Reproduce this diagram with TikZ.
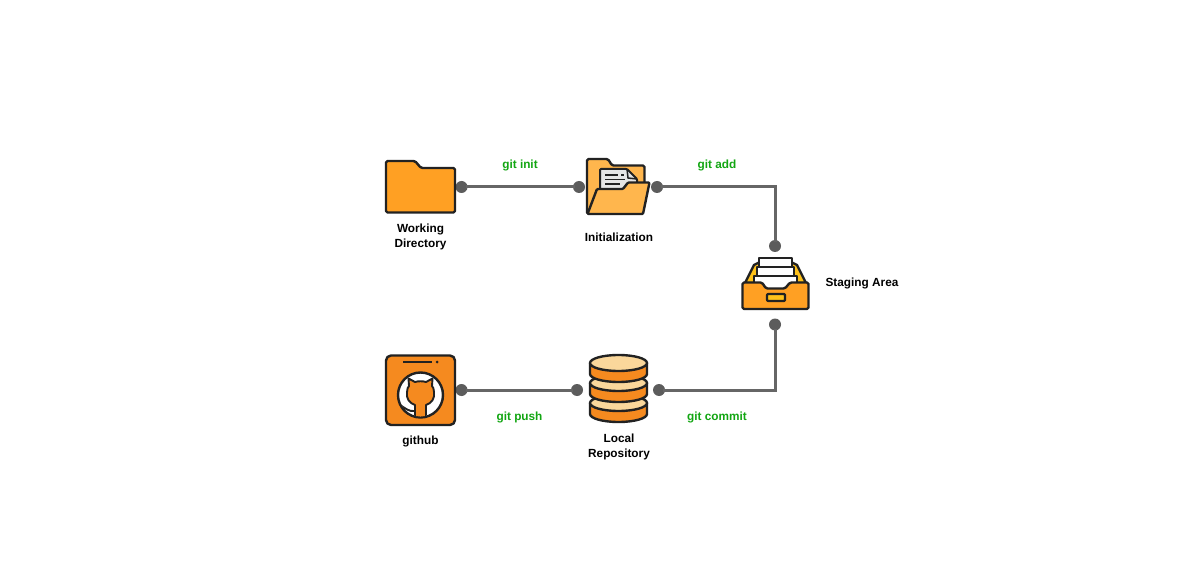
\documentclass[tikz,border=0pt]{standalone}
\usepackage{fontspec}
\setmainfont{Liberation Sans}
\definecolor{folderor}{HTML}{FFA023}
\definecolor{folderlt}{HTML}{FFB64D}
\definecolor{boxor}{HTML}{F58A1F}
\definecolor{cream}{HTML}{FAD79B}
\definecolor{yel}{HTML}{FFC21A}
\definecolor{ink}{HTML}{222222}
\definecolor{wire}{HTML}{666666}
\definecolor{dotc}{HTML}{5C5C5C}
\definecolor{cmdc}{HTML}{12A612}
\tikzset{
  px/.style={x=1pt,y=-1pt},
  dotn/.style={circle,fill=dotc,inner sep=0pt,outer sep=0pt,minimum size=12pt},
  wireline/.style={draw=wire,line width=3pt,shorten <=-2pt,shorten >=-2pt},
  icon/.style={draw=ink,line width=2.4pt,line join=round,line cap=round},
  lab/.style={font=\fontsize{11.8}{14.3}\selectfont\bfseries,text=black,align=center,inner sep=0pt},
  cmd/.style={font=\fontsize{11.8}{14.3}\selectfont\bfseries,text=cmdc,inner sep=0pt}
}
\begin{document}
\begin{tikzpicture}[px]
\useasboundingbox[fill=white] (0,0) rectangle (1199,585);
% connection points
\node[dotn] (d1) at (461.5,187) {};
\node[dotn] (d2) at (579,187) {};
\node[dotn] (d3) at (657,187) {};
\node[dotn] (d4) at (775,246) {};
\node[dotn] (d5) at (775,324.5) {};
\node[dotn] (d6) at (659,390) {};
\node[dotn] (d7) at (577,390) {};
\node[dotn] (d8) at (461.5,390) {};
\draw[wireline] (d1) -- (d2);
\draw[wireline] (d3) -| (d4);
\draw[wireline] (d5) |- (d6);
\draw[wireline] (d7) -- (d8);
% working directory folder
\draw[icon,fill=folderor,rounded corners=1.5pt] (386,161) -- (415,161) -- (421,168) -- (455,168) -- (455,212.5) -- (386,212.5) -- cycle;
% initialization folder
\draw[icon,fill=folderlt,rounded corners=1.5pt] (587,214) -- (587,159) -- (608,159) -- (612,165.5) -- (644.5,165.5) -- (644.5,190) -- cycle;
\draw[icon,fill=black!10,rounded corners=1pt,line width=2pt] (600,192) -- (600,169) -- (627,169) -- (637,179) -- (637,192);
\draw[ink,line width=1.5pt] (627,169) -- (628,178) -- (637,179);
\draw[ink,line width=1.7pt] (605,175) -- (618,175) (621,175) -- (624,175) (605,179.5) -- (625,179.5) (605,184) -- (620,184);
\draw[icon,fill=folderlt,rounded corners=1pt] (587.5,214) -- (597,189) -- (623,189) -- (628,182.5) -- (649.5,182.5) -- (643,214) -- cycle;
% staging area tray
\draw[icon,fill=yel] (745,283) -- (754,265) -- (760,262) -- (791,262) -- (797,265) -- (806,283) -- cycle;
\draw[icon,fill=white,line width=2pt] (759,281) -- (759,258.5) -- (791.5,258.5) -- (791.5,281) -- cycle;
\draw[icon,fill=white,line width=2pt] (757,281) -- (757,267) -- (794,267) -- (794,281) -- cycle;
\draw[icon,fill=white,line width=2pt] (754,290) -- (754,276) -- (797,276) -- (797,290) -- cycle;
\draw[icon,fill=folderor,rounded corners=1.5pt] (742.5,282.5) -- (762,282.5) -- (766,288.5) -- (785,288.5) -- (790,282.5) -- (808.5,282.5) -- (808.5,309) -- (742.5,309) -- cycle;
\draw[icon,fill=yel,rounded corners=1pt,line width=2.2pt] (767,294) rectangle (785,301);
% github tile
\draw[icon,fill=boxor,rounded corners=5pt] (386,355.5) rectangle (455,425);
\draw[ink,line width=2pt] (403,362) -- (432,362);
\fill[ink] (437,362) circle (1.5pt);
\draw[ink,line width=2.4pt,fill=white] (420.5,395) circle (22.5pt);
\begin{scope}
\clip (420.5,395) circle (21.5pt);
\draw[ink,line width=1.9pt,fill=boxor,line join=round] (415,420) -- (415,405) .. controls (409,403) and (406,398) .. (407,392) .. controls (407,389) and (408,387) .. (409,386) -- (408.5,378.5) -- (415,382) .. controls (418,381) and (423,381) .. (426,382) -- (432.5,378.5) -- (432,386) .. controls (433,387) and (434,389) .. (434,392) .. controls (435,398) and (432,403) .. (426,405) -- (426,420) -- cycle;
\draw[ink,line width=1.9pt] (415,411) .. controls (409,412) and (405,408) .. (400,405);
\end{scope}
% local repository database
\draw[icon,fill=boxor] (590,403) -- (590,414) arc[start angle=180,end angle=360,x radius=28.5pt,y radius=8pt] -- (647,403) -- cycle;
\draw[icon,fill=cream] (618.5,403) ellipse[x radius=28.5pt,y radius=8pt];
\draw[icon,fill=boxor] (590,383) -- (590,394) arc[start angle=180,end angle=360,x radius=28.5pt,y radius=8pt] -- (647,383) -- cycle;
\draw[icon,fill=cream] (618.5,383) ellipse[x radius=28.5pt,y radius=8pt];
\draw[icon,fill=boxor] (590,363) -- (590,374) arc[start angle=180,end angle=360,x radius=28.5pt,y radius=8pt] -- (647,363) -- cycle;
\draw[icon,fill=cream] (618.5,363) ellipse[x radius=28.5pt,y radius=8pt];
% labels
\node[lab] (wd) at (420.5,237) {Working\\Directory};
\node[lab] (in) at (619,237) {Initialization};
\node[lab] (sa) at (862,283) {Staging Area};
\node[lab] (gh) at (420.5,441) {github};
\node[lab] (lr) at (619,447) {Local\\Repository};
\node[cmd] (c1) at (520,165.5) {git init};
\node[cmd] (c2) at (717,165.5) {git add};
\node[cmd] (c3) at (519.5,417.5) {git push};
\node[cmd] (c4) at (717,417.5) {git commit};
\end{tikzpicture}
\end{document}
